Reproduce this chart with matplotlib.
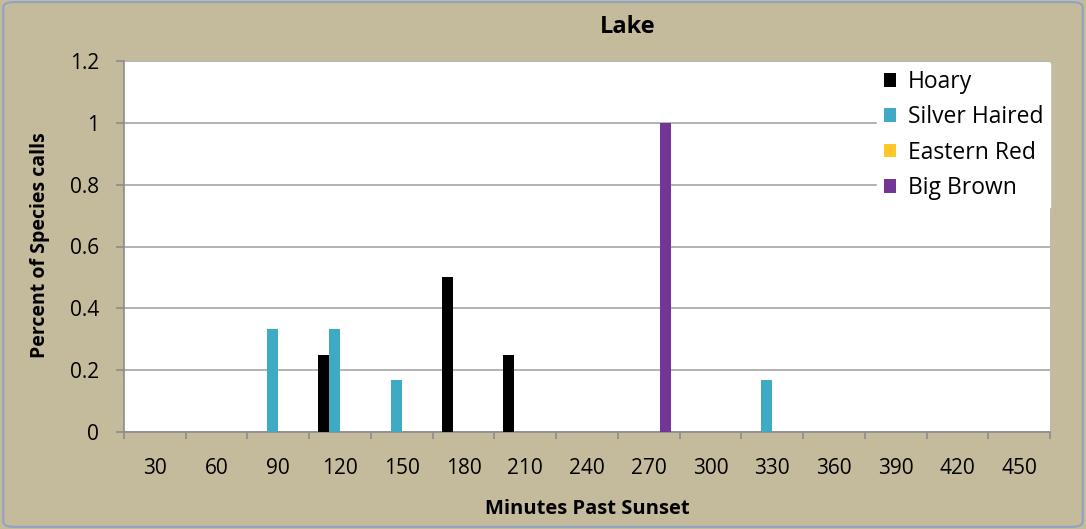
import numpy as np
import matplotlib.pyplot as plt
from matplotlib.patches import FancyBboxPatch

plt.rcParams['font.family'] = ['Open Sans', 'DejaVu Sans']

# minutes past sunset
minutes = [30, 60, 90, 120, 150, 180, 210, 240, 270, 300, 330, 360, 390, 420, 450]

hoary = [0, 0, 0, 0.25, 0, 0.5, 0.25, 0, 0, 0, 0, 0, 0, 0, 0]
silver_haired = [0, 0, 0.333, 0.333, 0.167, 0, 0, 0, 0, 0, 0.167, 0, 0, 0, 0]
eastern_red = [0, 0, 0, 0, 0, 0, 0, 0, 0, 0, 0, 0, 0, 0, 0]
big_brown = [0, 0, 0, 0, 0, 0, 0, 0, 1.0, 0, 0, 0, 0, 0, 0]

series = [
    ("Hoary", hoary, "#000000"),
    ("Silver Haired", silver_haired, "#3FAAC4"),
    ("Eastern Red", eastern_red, "#FFC629"),
    ("Big Brown", big_brown, "#743695"),
]

bg = "#C4BB9C"
fig = plt.figure(figsize=(10.86, 5.29), dpi=100, facecolor=bg)
ax = fig.add_axes([124 / 1086, 1 - 432 / 529, (1050 - 124) / 1086, (432 - 61) / 529])

x = np.arange(len(minutes))
w = 0.177
for i, (name, vals, col) in enumerate(series):
    ax.bar(x + (i - 1.5) * w, vals, width=w, color=col, label=name, zorder=3)

ax.set_xlim(-0.5, len(minutes) - 0.5)
ax.set_ylim(0, 1.2)
ax.set_yticks(np.arange(0, 1.21, 0.2))
ax.set_yticklabels(["0", "0.2", "0.4", "0.6", "0.8", "1", "1.2"])
ax.yaxis.grid(True, color="#A6A6A6", linewidth=1.2, zorder=0)
ax.set_axisbelow(True)

# category labels centred, tick marks between categories
ax.set_xticks(x)
ax.set_xticklabels([str(m) for m in minutes])
ax.tick_params(axis="x", length=0, pad=19, labelsize=15)
ax.set_xticks(np.arange(-0.5, len(minutes), 1), minor=True)
ax.tick_params(axis="x", which="minor", length=5, color="#8C8C8C", width=1.2)
ax.tick_params(axis="y", length=6, color="#8C8C8C", width=1.2, labelsize=15, pad=12)

for s in ["top", "right"]:
    ax.spines[s].set_visible(False)
for s in ["left", "bottom"]:
    ax.spines[s].set_color("#8C8C8C")
    ax.spines[s].set_linewidth(1.2)

leg = ax.legend(loc="upper right", bbox_to_anchor=(1.0, 0.995), frameon=True,
                fancybox=False, edgecolor="white", facecolor="white", framealpha=1,
                fontsize=16.5, handlelength=0.55, handleheight=0.55, handletextpad=0.5,
                labelspacing=0.5, borderpad=0.3, borderaxespad=0)
leg.set_zorder(5)

fig.text(628 / 1086, 1 - 27 / 529, "Lake", ha="center", va="center",
         fontsize=17, fontweight="bold")
ax.set_xlabel("Minutes Past Sunset", fontsize=14.5, fontweight="bold", labelpad=14)
fig.text(40 / 1086, 1 - 245 / 529, "Percent of Species calls", rotation=90,
         ha="center", va="center", fontsize=14, fontweight="bold")

# rounded outline around the whole chart
border = FancyBboxPatch((0.003, 0.004), 0.994, 0.992, boxstyle="round,pad=0,rounding_size=0.01",
                        transform=fig.transFigure, facecolor="none",
                        edgecolor="#8FA3C8", linewidth=1.5)
fig.patches.append(border)

fig.savefig("out.png", dpi=100, facecolor=bg)
